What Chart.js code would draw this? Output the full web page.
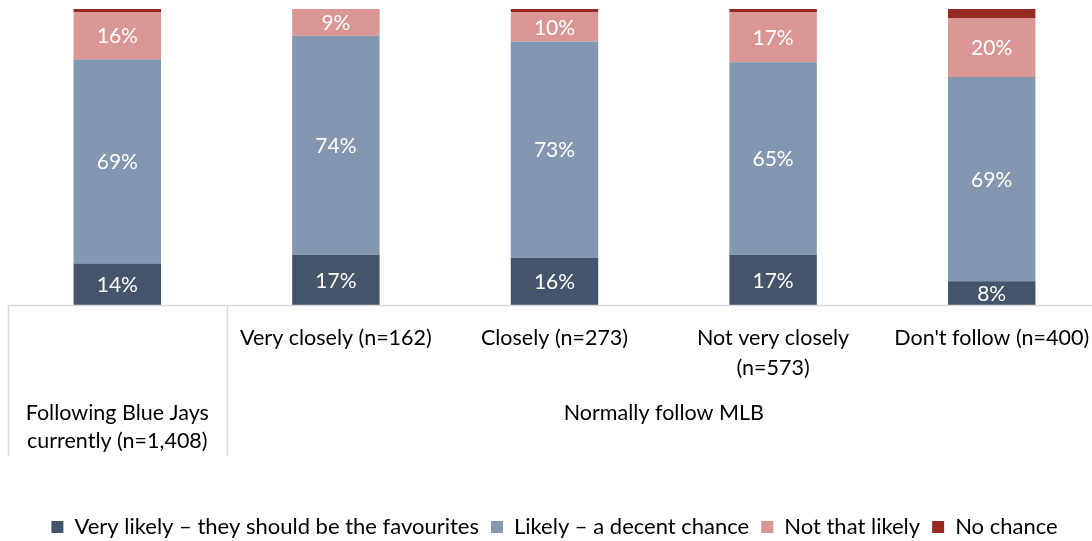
<!DOCTYPE html>
<html>
<head>
<meta charset="utf-8">
<script src="https://cdn.jsdelivr.net/npm/chart.js@4/dist/chart.umd.min.js"></script>
<style>
  html, body { margin: 0; padding: 0; background: #fff; overflow: hidden; }
  #wrap { width: 1104px; height: 550px; }
</style>
</head>
<body>
<div id="wrap"><canvas id="chart"></canvas></div>
<script>
// categories, first level of the axis and groups (second level)
const categories = ['Following Blue Jays currently (n=1,408)', 'Very closely (n=162)', 'Closely (n=273)', 'Not very closely (n=573)', "Don't follow (n=400)"];
const tickLabels = [[], ['Very closely (n=162)'], ['Closely (n=273)'], ['Not very closely', '(n=573)'], ["Don't follow (n=400)"]];
const groupLabels = [['Following Blue Jays', 'currently (n=1,408)'], ['Normally follow MLB']];
const groupFirst = [0, 1];
const groupLast = [0, 4];

// series (%)
const seriesNames = ['Very likely – they should be the favourites', 'Likely – a decent chance', 'Not that likely', 'No chance'];
const veryLikely = [14, 17, 16, 17, 8];
const likely = [69, 74, 73, 65, 69];
const notThatLikely = [16, 9, 10, 17, 20];
const noChance = [1, 0, 1, 1, 3];

const colors = ['#44546a', '#8497b0', '#da9694', '#962a22'];
const FONT = 'Lato';

// value labels inside the segments (not for "No chance")
const valueLabels = {
  id: 'valueLabels',
  afterDatasetsDraw(chart) {
    const ctx = chart.ctx;
    ctx.save();
    ctx.font = '21px ' + FONT;
    ctx.fillStyle = '#ffffff';
    ctx.textAlign = 'center';
    ctx.textBaseline = 'middle';
    chart.data.datasets.forEach((ds, i) => {
      if (i === 3) return;
      chart.getDatasetMeta(i).data.forEach((bar, j) => {
        const v = ds.data[j];
        if (!v) return;
        ctx.fillText(v + '%', bar.x, (bar.y + bar.base) / 2 + 1);
      });
    });
    ctx.restore();
  }
};

// multi-level category axis
const groupAxis = {
  id: 'groupAxis',
  afterDraw(chart) {
    const ctx = chart.ctx;
    const area = chart.chartArea;
    const x = chart.scales.x;
    const step = (area.right - area.left) / categories.length;
    const lineBottom = area.bottom + 151;
    ctx.save();
    ctx.strokeStyle = '#d9d9d9';
    ctx.lineWidth = 1.5;
    ctx.beginPath();
    ctx.moveTo(area.left, area.bottom + 0.5);
    ctx.lineTo(area.right, area.bottom + 0.5);
    groupFirst.forEach(g => {
      const px = Math.round(x.getPixelForValue(g) - step / 2) + 0.5;
      ctx.moveTo(px, area.bottom);
      ctx.lineTo(px, lineBottom);
    });
    ctx.stroke();

    ctx.font = '21.5px ' + FONT;
    ctx.fillStyle = '#000000';
    ctx.textAlign = 'center';
    ctx.textBaseline = 'middle';
    tickLabels.forEach((lines, i) => {
      const px = x.getPixelForValue(i);
      lines.forEach((t, k) => ctx.fillText(t, px, area.bottom + 33 + k * 30));
    });
    groupLabels.forEach((lines, g) => {
      const left = x.getPixelForValue(groupFirst[g]) - step / 2;
      const right = x.getPixelForValue(groupLast[g]) + step / 2;
      const px = (left + right) / 2;
      lines.forEach((t, k) => ctx.fillText(t, px, area.bottom + 108 + k * 28));
    });
    ctx.restore();
  }
};

new Chart(document.getElementById('chart'), {
  type: 'bar',
  data: {
    labels: categories,
    datasets: [veryLikely, likely, notThatLikely, noChance].map((d, i) => ({
      label: seriesNames[i],
      data: d,
      backgroundColor: colors[i],
      borderWidth: 0,
      barPercentage: 1,
      categoryPercentage: 0.4
    }))
  },
  options: {
    responsive: true,
    maintainAspectRatio: false,
    animation: false,
    layout: { padding: { top: 9, left: 8, right: 3, bottom: 2 } },
    scales: {
      x: {
        stacked: true,
        grid: { display: false },
        border: { display: false },
        ticks: { display: false },
        afterFit(scale) { scale.height = 199; }
      },
      y: { stacked: true, min: 0, max: 100, display: false }
    },
    plugins: {
      legend: {
        position: 'bottom',
        labels: {
          boxWidth: 12,
          boxHeight: 12,
          padding: 12,
          color: '#000000',
          font: { family: FONT, size: 22 }
        }
      },
      tooltip: { enabled: false }
    }
  },
  plugins: [valueLabels, groupAxis]
});
</script>
</body>
</html>
